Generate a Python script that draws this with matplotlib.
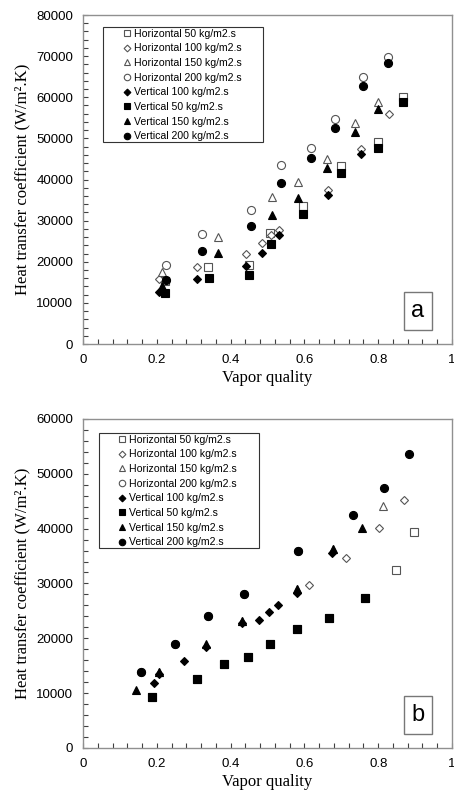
import matplotlib
matplotlib.use("Agg")
import matplotlib.pyplot as plt
from matplotlib.patches import Rectangle
from matplotlib.ticker import MultipleLocator

# panel a
a_h50_x = [0.222, 0.340, 0.451, 0.507, 0.595, 0.699, 0.799, 0.868]
a_h50_y = [15400, 18800, 19210, 26920, 33560, 43360, 49200, 60140]
a_h100_x = [0.207, 0.310, 0.442, 0.485, 0.510, 0.530, 0.665, 0.753, 0.830]
a_h100_y = [15810, 18650, 21810, 24640, 26510, 27720, 37450, 47350, 55860]
a_h150_x = [0.213, 0.365, 0.513, 0.582, 0.662, 0.738, 0.799]
a_h150_y = [17580, 25950, 35670, 39470, 45070, 53670, 58930]
a_h200_x = [0.224, 0.322, 0.454, 0.537, 0.617, 0.683, 0.758, 0.827]
a_h200_y = [19210, 26670, 32590, 43530, 47740, 54650, 64860, 69730]
a_v100_x = [0.207, 0.310, 0.442, 0.485, 0.530, 0.665, 0.753]
a_v100_y = [12720, 15810, 19050, 22050, 26430, 36240, 46210]
a_v50_x = [0.222, 0.342, 0.451, 0.509, 0.595, 0.699, 0.799, 0.868]
a_v50_y = [12330, 15970, 16780, 24320, 31620, 41510, 47590, 58860]
a_v150_x = [0.215, 0.365, 0.513, 0.582, 0.662, 0.738, 0.799]
a_v150_y = [14100, 22210, 31370, 35430, 42730, 51640, 57220]
a_v200_x = [0.224, 0.322, 0.454, 0.537, 0.617, 0.683, 0.758, 0.827]
a_v200_y = [15560, 22620, 28700, 39080, 45160, 52460, 62820, 68270]

# panel b
b_h50_x = [0.186, 0.308, 0.383, 0.447, 0.507, 0.580, 0.668, 0.764, 0.848, 0.898]
b_h50_y = [9250, 12590, 15320, 16650, 18970, 21650, 23650, 27420, 32470, 39450]
b_h100_x = [0.612, 0.713, 0.803, 0.869]
b_h100_y = [29730, 34710, 40070, 45240]
b_h150_x = [0.205, 0.430, 0.579, 0.677, 0.814]
b_h150_y = [13800, 23220, 28940, 36240, 44140]
b_h200_x = [0.156, 0.249, 0.340, 0.436, 0.583]
b_h200_y = [13800, 18970, 24130, 28090, 35930]
b_v100_x = [0.193, 0.205, 0.274, 0.333, 0.430, 0.478, 0.503, 0.529, 0.579, 0.676]
b_v100_y = [11910, 13400, 15870, 18370, 22800, 23350, 24800, 26030, 28330, 35510]
b_v50_x = [0.186, 0.308, 0.383, 0.447, 0.507, 0.580, 0.668, 0.764]
b_v50_y = [9250, 12590, 15320, 16650, 18970, 21650, 23650, 27420]
b_v150_x = [0.143, 0.205, 0.333, 0.430, 0.579, 0.677, 0.755]
b_v150_y = [10580, 13800, 18970, 23220, 28940, 36240, 40070]
b_v200_x = [0.156, 0.249, 0.340, 0.436, 0.583, 0.733, 0.816, 0.883]
b_v200_y = [13800, 18970, 24130, 28090, 35930, 42500, 47480, 53630]

labels = ["Horizontal 50 kg/m2.s", "Horizontal 100 kg/m2.s", "Horizontal 150 kg/m2.s",
          "Horizontal 200 kg/m2.s", "Vertical 100 kg/m2.s", "Vertical 50 kg/m2.s",
          "Vertical 150 kg/m2.s", "Vertical 200 kg/m2.s"]
markers = ["s", "D", "^", "o", "D", "s", "^", "o"]
sizes = [5.5, 4.3, 6, 5.8, 4.3, 5.2, 6, 5.8]

# (tag, series, ymax, axes rect, legend anchor, legend box [x0, y0, x1, y1])
panels = [
    ("a", [(a_h50_x, a_h50_y), (a_h100_x, a_h100_y), (a_h150_x, a_h150_y), (a_h200_x, a_h200_y),
           (a_v100_x, a_v100_y), (a_v50_x, a_v50_y), (a_v150_x, a_v150_y), (a_v200_x, a_v200_y)],
     80000, [0.1828, 0.5689, 0.8128, 0.4123], (0.109, 0.958), [0.055, 0.615, 0.487, 0.963]),
    ("b", [(b_h50_x, b_h50_y), (b_h100_x, b_h100_y), (b_h150_x, b_h150_y), (b_h200_x, b_h200_y),
           (b_v100_x, b_v100_y), (b_v50_x, b_v50_y), (b_v150_x, b_v150_y), (b_v200_x, b_v200_y)],
     60000, [0.1828, 0.0627, 0.8128, 0.4123], (0.095, 0.952), [0.044, 0.609, 0.478, 0.958]),
]

fig = plt.figure(figsize=(4.54, 7.98), dpi=100)

for tag, series, ymax, rect, leg_pos, box in panels:
    ax = fig.add_axes(rect)
    for i, (xs, ys) in enumerate(series):
        filled = i >= 4
        ax.plot(xs, ys, linestyle="none", marker=markers[i], markersize=sizes[i],
                markerfacecolor="black" if filled else "white",
                markeredgecolor="black" if filled else "#555555",
                markeredgewidth=0.8, label=labels[i])

    ax.set_xlim(0, 1)
    ax.set_ylim(0, ymax)
    ax.xaxis.set_major_locator(MultipleLocator(0.2))
    ax.xaxis.set_minor_locator(MultipleLocator(0.04))
    ax.yaxis.set_major_locator(MultipleLocator(10000))
    ax.yaxis.set_minor_locator(MultipleLocator(2000))
    ax.xaxis.set_major_formatter(plt.FuncFormatter(lambda v, p: "%g" % round(v, 2)))
    ax.tick_params(which="both", direction="in", length=3.5, width=0.8, color="#404040",
                   labelsize=9.5, pad=7, top=False, right=False)
    for lab in ax.get_xticklabels() + ax.get_yticklabels():
        lab.set_family("Liberation Sans")
    for sp in ax.spines.values():
        sp.set_color("#909090")
        sp.set_linewidth(1.0)

    ax.set_xlabel("Vapor quality", family="Liberation Serif", fontsize=12, labelpad=3)
    ax.set_ylabel("Heat transfer coefficient (W/m\u00b2.K)", family="Liberation Serif",
                  fontsize=12, labelpad=4)

    ax.add_patch(Rectangle((box[0], box[1]), box[2] - box[0], box[3] - box[1],
                           transform=ax.transAxes, facecolor="white", edgecolor="#333333",
                           linewidth=0.8, zorder=4))
    leg = ax.legend(loc="upper left", bbox_to_anchor=leg_pos, borderaxespad=0, borderpad=0,
                    prop={"family": "Liberation Sans", "size": 7.6}, markerscale=0.8,
                    handlelength=0.8, handletextpad=0.2, labelspacing=0.44,
                    frameon=False)
    leg.set_zorder(5)

    ax.text(0.908, 0.101, tag, transform=ax.transAxes, ha="center", va="center",
            fontsize=17, family="Liberation Sans",
            bbox=dict(boxstyle="square,pad=0.33", facecolor="white", edgecolor="#777777",
                      linewidth=1.0))

fig.savefig("out.png", dpi=100)
